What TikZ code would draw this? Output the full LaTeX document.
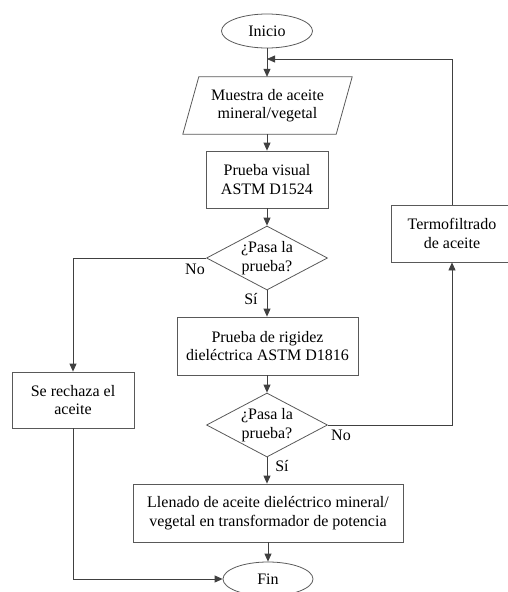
\documentclass[tikz,border=0pt]{standalone}
\usepackage{fontspec}
\setmainfont{Liberation Serif}
\newfontfamily\tnr{Liberation Serif}
\usetikzlibrary{shapes.geometric,arrows.meta}
\begin{document}
\begin{tikzpicture}[x=1pt,y=-1pt,
  every node/.style={font=\tnr\fontsize{16}{18.5}\selectfont, align=center, inner sep=0pt},
  boxst/.style={draw=black!65, line width=0.8pt, minimum height=57pt},
  ellst/.style={ellipse, draw=black!65, line width=0.8pt, minimum width=91pt, minimum height=34pt},
  dmd/.style={diamond, draw=black!65, line width=0.8pt, minimum width=121pt, minimum height=64pt},
  arr/.style={draw=black!75, line width=0.8pt, -{Triangle[length=8pt,width=7pt]}},
  lbl/.style={font=\tnr\fontsize{16}{18.5}\selectfont}
]
\useasboundingbox (0,0) rectangle (508,592);
\node[ellst] (inicio) at (267,31) {Inicio};
\node[minimum width=153pt, minimum height=57pt] (muestra) at (267.5,105.5) {Muestra de aceite\\mineral/vegetal};
\draw[draw=black!65, line width=0.8pt] ([xshift=8pt]muestra.north west) -- ([xshift=8pt]muestra.north east) -- ([xshift=-8pt]muestra.south east) -- ([xshift=-8pt]muestra.south west) -- cycle;
\node[boxst, minimum width=122pt] (visual) at (267,179.5) {Prueba visual\\ASTM D1524};
\node[dmd] (d1) at (267,258) {};
\node (d1t) at (267,258) {¿Pasa la\\prueba?};
\node[boxst, minimum width=181pt, minimum height=58pt] (rigidez) at (267.5,346) {Prueba de rigidez\\dieléctrica ASTM D1816};
\node[boxst, minimum width=122pt] (termo) at (452,233.5) {Termofiltrado\\de aceite};
\node[boxst, minimum width=122pt, minimum height=56pt] (rechaza) at (73,400) {Se rechaza el\\aceite};
\node[dmd] (d2) at (267,425) {};
\node (d2t) at (267,425) {¿Pasa la\\prueba?};
\node[boxst, minimum width=270pt, minimum height=58pt] (llenado) at (268,513) {Llenado de aceite dieléctrico mineral/\\vegetal en transformador de potencia};
\node[ellst, minimum width=90pt] (fin) at (268,579) {Fin};
\coordinate (jn) at (267,59);

\draw[arr] (inicio.south) -- (inicio.south |- muestra.north);
\draw[arr] (termo.north) |- (jn);
\draw[arr] (visual.north |- muestra.south) -- (visual.north);
\draw[arr] (visual.south) -- (d1.north);
\draw[arr] (d1.west) -| (rechaza.north);
\node[lbl] (no1) at (195,269) {No};
\draw[arr] (d1.south) -- (d1.south |- rigidez.north);
\node[lbl] (si1) at (251,299) {Sí};
\draw[arr] (d2.north |- rigidez.south) -- (d2.north);
\draw[arr] (d2.east) -| (termo.south);
\node[lbl] (no2) at (341,435) {No};
\draw[arr] (d2.south) -- (d2.south |- llenado.north);
\node[lbl] (si2) at (282,466) {Sí};
\draw[arr] (fin.north |- llenado.south) -- (fin.north);
\draw[arr] (rechaza.south) |- (fin.west);
\end{tikzpicture}
\end{document}
